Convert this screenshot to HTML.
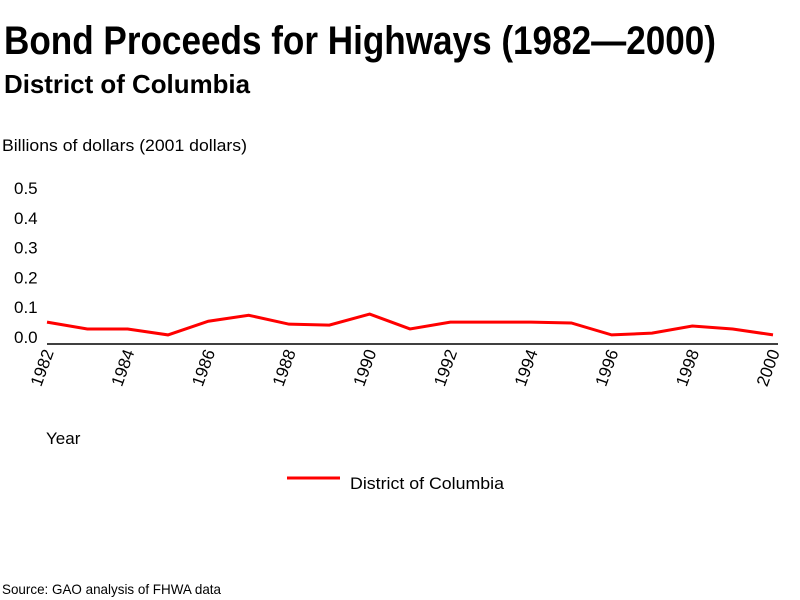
<!DOCTYPE html>
<html><head><meta charset="utf-8"><style>
body{margin:0;background:#fff;}
svg{display:block;font-family:"Liberation Sans",Arial,sans-serif;}
</style></head><body>
<svg width="800" height="600">
<text x="4" y="54" font-size="40" font-weight="bold" textLength="712" lengthAdjust="spacingAndGlyphs">Bond Proceeds for Highways (1982—2000)</text>
<text x="4" y="93" font-size="26" font-weight="bold" textLength="246" lengthAdjust="spacingAndGlyphs">District of Columbia</text>
<text x="2" y="151" font-size="17" textLength="245" lengthAdjust="spacingAndGlyphs">Billions of dollars (2001 dollars)</text>
<g id="yticks"></g>
<line x1="47" y1="344" x2="778" y2="344" stroke="#000" stroke-width="1.5"/>
<g id="xticks"></g>
<polyline id="series" fill="none" stroke="#ff0000" stroke-width="3"/>
<text x="46" y="444" font-size="17">Year</text>
<g>
<line x1="287" y1="478" x2="340" y2="478" stroke="#ff0000" stroke-width="3"/>
<text x="350" y="489" font-size="17" textLength="154" lengthAdjust="spacingAndGlyphs">District of Columbia</text>
</g>
<text x="2" y="594" font-size="14" textLength="219" lengthAdjust="spacingAndGlyphs">Source: GAO analysis of FHWA data</text>
</svg>
<script>
const years=[1982,1983,1984,1985,1986,1987,1988,1989,1990,1991,1992,1993,1994,1995,1996,1997,1998,1999,2000];
const values=[0.05,0.027,0.027,0.007,0.053,0.073,0.043,0.04,0.077,0.027,0.05,0.05,0.05,0.047,0.007,0.013,0.037,0.027,0.007];
const yTicks=[0,0.1,0.2,0.3,0.4,0.5];
const xTickLabels=[1982,1984,1986,1988,1990,1992,1994,1996,1998,2000];
const NS="http://www.w3.org/2000/svg";
function xs(y){return 47+(y-1982)*(773-47)/18;}
function ys(v){return 337-v*298;}
const yg=document.getElementById('yticks');
yTicks.forEach(t=>{const e=document.createElementNS(NS,'text');
e.setAttribute('x',14);e.setAttribute('y',ys(t)+6);e.setAttribute('font-size','17');
e.textContent=t.toFixed(1);


yg.appendChild(e);});
const xg=document.getElementById('xticks');
xTickLabels.forEach(t=>{const e=document.createElementNS(NS,'text');
const x=xs(t)+7,y=352;
e.setAttribute('x',x);e.setAttribute('y',y);e.setAttribute('font-size','17');
e.setAttribute('text-anchor','end');
e.setAttribute('transform','rotate(-70 '+x+' '+y+')');
e.textContent=t;


xg.appendChild(e);});
document.getElementById('series').setAttribute('points',years.map((y,i)=>xs(y)+','+ys(values[i])).join(' '));
</script>
</body></html>
